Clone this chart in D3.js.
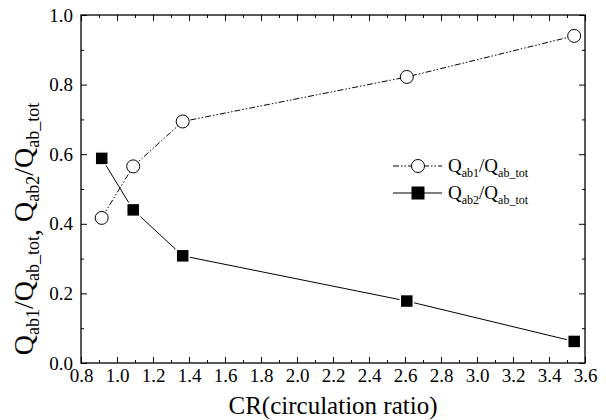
<!DOCTYPE html>
<html>
<head>
<meta charset="utf-8">
<script src="https://cdn.jsdelivr.net/npm/d3@7"></script>
<style>
  body { margin: 0; background: #fff; }
  svg { display: block; }
  text { font-family: "Liberation Serif", "Times New Roman", serif !important; fill: #000; }
</style>
</head>
<body>
<script>
const crValues = [0.915, 1.09, 1.365, 2.61, 3.54];
const ratio1 = [0.417, 0.565, 0.694, 0.822, 0.940];
const ratio2 = [0.588, 0.440, 0.308, 0.178, 0.062];
const xTickValues = [0.8, 1.0, 1.2, 1.4, 1.6, 1.8, 2.0, 2.2, 2.4, 2.6, 2.8, 3.0, 3.2, 3.4, 3.6];
const yTickValues = [0.0, 0.2, 0.4, 0.6, 0.8, 1.0];
const xMinorTicks = [0.9, 1.1, 1.3, 1.5, 1.7, 1.9, 2.1, 2.3, 2.5, 2.7, 2.9, 3.1, 3.3, 3.5];
const yMinorTicks = [0.1, 0.3, 0.5, 0.7, 0.9];

const W = 606, H = 420;
const m = { left: 81, right: 21, top: 15, bottom: 57 };
const iw = W - m.left - m.right, ih = H - m.top - m.bottom;

const svg = d3.select("body").append("svg").attr("width", W).attr("height", H);
const g = svg.append("g").attr("transform", `translate(${m.left},${m.top})`);

const x = d3.scaleLinear().domain([0.8, 3.6]).range([0, iw]);
const y = d3.scaleLinear().domain([0, 1]).range([ih, 0]);

function styleAxis(sel) {
  sel.attr("font-family", null).attr("font-size", null);
  sel.select(".domain").remove();
  sel.selectAll(".tick line").attr("stroke", "#000").attr("stroke-width", 1);
}

// bottom axis with labels
g.append("g").attr("transform", `translate(0,${ih})`)
  .call(d3.axisBottom(x).tickValues(xTickValues).tickFormat(d3.format(".1f")).tickSizeInner(-6).tickSizeOuter(0).tickPadding(6))
  .call(styleAxis)
  .call(s => s.selectAll("text").style("font-size", "19px"));
g.append("g").attr("transform", `translate(0,${ih})`)
  .call(d3.axisBottom(x).tickValues(xMinorTicks).tickFormat("").tickSizeInner(-3).tickSizeOuter(0))
  .call(styleAxis);
// top mirror
g.append("g")
  .call(d3.axisTop(x).tickValues(xTickValues).tickFormat("").tickSizeInner(-6).tickSizeOuter(0))
  .call(styleAxis);
g.append("g")
  .call(d3.axisTop(x).tickValues(xMinorTicks).tickFormat("").tickSizeInner(-3).tickSizeOuter(0))
  .call(styleAxis);
// left axis
g.append("g")
  .call(d3.axisLeft(y).tickValues(yTickValues).tickFormat(d3.format(".1f")).tickSizeInner(-6).tickSizeOuter(0).tickPadding(8))
  .call(styleAxis)
  .call(s => s.selectAll("text").style("font-size", "19px"));
g.append("g")
  .call(d3.axisLeft(y).tickValues(yMinorTicks).tickFormat("").tickSizeInner(-3).tickSizeOuter(0))
  .call(styleAxis);
// right mirror
g.append("g").attr("transform", `translate(${iw},0)`)
  .call(d3.axisRight(y).tickValues(yTickValues).tickFormat("").tickSizeInner(-6).tickSizeOuter(0))
  .call(styleAxis);
g.append("g").attr("transform", `translate(${iw},0)`)
  .call(d3.axisRight(y).tickValues(yMinorTicks).tickFormat("").tickSizeInner(-3).tickSizeOuter(0))
  .call(styleAxis);

// frame
g.append("rect").attr("x", 0).attr("y", 0).attr("width", iw).attr("height", ih)
  .attr("fill", "none").attr("stroke", "#000").attr("stroke-width", 1.3);

const pts1 = crValues.map((c, i) => [c, ratio1[i]]);
const pts2 = crValues.map((c, i) => [c, ratio2[i]]);
const line = d3.line().x(d => x(d[0])).y(d => y(d[1]));
const dashDotDot = "6,2,1.5,2,1.5,2";

g.append("path").datum(pts1).attr("d", line).attr("fill", "none")
  .attr("stroke", "#000").attr("stroke-width", 1).attr("stroke-dasharray", dashDotDot);
g.append("path").datum(pts2).attr("d", line).attr("fill", "none")
  .attr("stroke", "#000").attr("stroke-width", 1);

const sq = 13, r = 6.5;
g.selectAll(".sq").data(pts2).enter().append("rect")
  .attr("x", d => x(d[0]) - sq / 2).attr("y", d => y(d[1]) - sq / 2)
  .attr("width", sq).attr("height", sq).attr("fill", "#000")
  .attr("stroke", "#fff").attr("stroke-width", 1.5);
g.selectAll(".ci").data(pts1).enter().append("circle")
  .attr("cx", d => x(d[0])).attr("cy", d => y(d[1])).attr("r", r)
  .attr("fill", "#fff").attr("stroke", "#000").attr("stroke-width", 1);

// legend
function qLabel(sel, sub1, sub2, size) {
  const subSize = Math.round(size * 0.62);
  sel.append("tspan").text("Q").style("font-size", size + "px");
  sel.append("tspan").text(sub1).style("font-size", subSize + "px").attr("dy", size * 0.25);
  sel.append("tspan").text("/Q").style("font-size", size + "px").attr("dy", -size * 0.25);
  sel.append("tspan").text(sub2).style("font-size", subSize + "px").attr("dy", size * 0.25);
}
const legend = svg.append("g");
const lx0 = 393, lx1 = 442, lmid = 418, ltx = 448;
const ly1 = 166, ly2 = 193;
legend.append("line").attr("x1", lx0).attr("x2", lx1).attr("y1", ly1).attr("y2", ly1)
  .attr("stroke", "#000").attr("stroke-width", 1).attr("stroke-dasharray", dashDotDot);
legend.append("circle").attr("cx", lmid).attr("cy", ly1).attr("r", r)
  .attr("fill", "#fff").attr("stroke", "#000");
legend.append("line").attr("x1", lx0).attr("x2", lx1).attr("y1", ly2).attr("y2", ly2)
  .attr("stroke", "#000").attr("stroke-width", 1);
legend.append("rect").attr("x", lmid - sq / 2).attr("y", ly2 - sq / 2).attr("width", sq).attr("height", sq)
  .attr("fill", "#000");
legend.append("text").attr("x", ltx).attr("y", ly1 + 6).call(qLabel, "ab1", "ab_tot", 19);
legend.append("text").attr("x", ltx).attr("y", ly2 + 6).call(qLabel, "ab2", "ab_tot", 19);

// axis titles
svg.append("text").attr("x", m.left + iw / 2).attr("y", 414).attr("text-anchor", "middle")
  .style("font-size", "25px").text("CR(circulation ratio)");

const yt = svg.append("text").attr("transform", `translate(33,229) rotate(-90)`)
  .attr("text-anchor", "middle").style("font-size", "28px");
const sub = "18px", dy = 6;
yt.append("tspan").text("Q");
yt.append("tspan").text("ab1").style("font-size", sub).attr("dy", dy);
yt.append("tspan").text("/Q").attr("dy", -dy);
yt.append("tspan").text("ab_tot").style("font-size", sub).attr("dy", dy);
yt.append("tspan").text(",").attr("dy", 0);
yt.append("tspan").text(" Q").attr("dy", -dy);
yt.append("tspan").text("ab2").style("font-size", sub).attr("dy", dy);
yt.append("tspan").text("/Q").attr("dy", -dy);
yt.append("tspan").text("ab_tot").style("font-size", sub).attr("dy", dy);
</script>
</body>
</html>
